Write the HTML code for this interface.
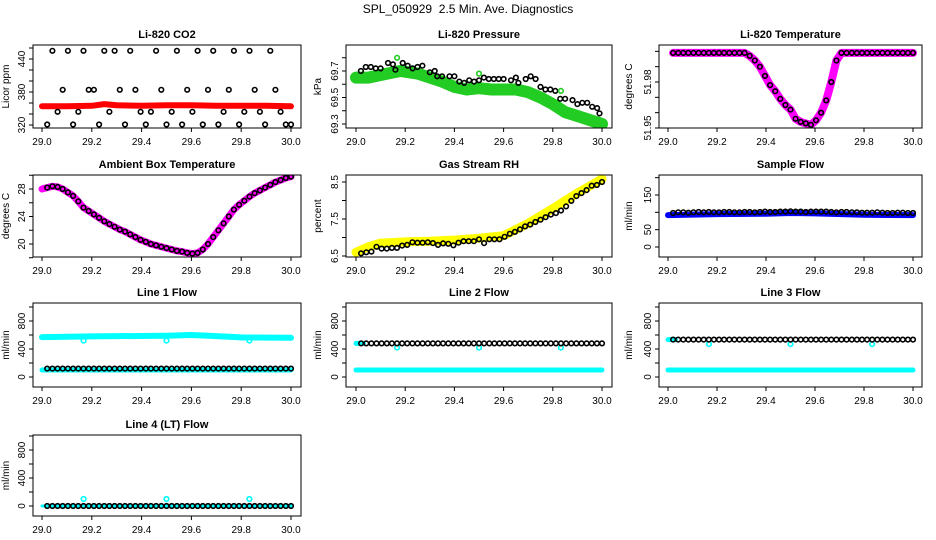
<!DOCTYPE html>
<html><head><meta charset="utf-8"><style>
body{margin:0;background:#fff}
svg{display:block;font-family:"Liberation Sans",sans-serif}
</style></head><body>
<svg id="chart" width="936" height="540" viewBox="0 0 936 540">
<text x="468" y="13" text-anchor="middle" font-size="12" style="white-space:pre">SPL_050929  2.5 Min. Ave. Diagnostics</text>
</svg>
<script>
// ---- data ----
const tTicks=[29.0,29.2,29.4,29.6,29.8,30.0];
const tickLabels=["29.0","29.2","29.4","29.6","29.8","30.0"];
const t48=Array.from({length:48},(_, i)=>29+(i+1)/48);
const co2Circles=[321,455,344,384,455,321,344,455,384,384,321,455,344,455,384,321,455,384,344,321,344,455,384,321,344,455,321,384,344,455,321,384,455,321,344,384,455,321,344,455,384,344,321,455,384,344,321,321];
const co2BandT=[29.0,29.1,29.2,29.25,29.3,29.4,29.5,29.6,29.7,29.8,29.9,30.0];
const co2BandV=[354,354,355,358,356,355,356,356,355,355,355,354];
const presBandT=[29.0,29.05,29.1,29.18,29.25,29.3,29.35,29.4,29.45,29.5,29.55,29.6,29.65,29.7,29.75,29.8,29.85,29.9,29.95,30.0];
const presBandV=[69.65,69.65,69.67,69.7,69.68,69.65,69.62,69.58,69.56,69.57,69.56,69.56,69.56,69.54,69.5,69.45,69.39,69.36,69.33,69.30];
const presCircT=[29.02,29.04,29.06,29.08,29.1,29.13,29.15,29.16,29.19,29.21,29.23,29.25,29.27,29.3,29.32,29.33,29.35,29.38,29.4,29.42,29.44,29.46,29.48,29.5,29.52,29.54,29.56,29.58,29.6,29.63,29.65,29.66,29.69,29.71,29.73,29.75,29.77,29.79,29.81,29.83,29.85,29.88,29.9,29.92,29.94,29.96,29.98,29.99];
const presCircV=[69.7,69.73,69.73,69.72,69.72,69.76,69.75,69.71,69.76,69.74,69.72,69.73,69.74,69.69,69.7,69.66,69.66,69.66,69.66,69.62,69.61,69.63,69.62,69.63,69.65,69.64,69.64,69.64,69.64,69.63,69.65,69.61,69.64,69.66,69.64,69.58,69.56,69.56,69.55,69.49,69.49,69.48,69.45,69.46,69.46,69.43,69.42,69.38];
const tempV=[51.999,51.999,51.999,51.999,51.999,51.999,51.999,51.999,51.999,51.999,51.999,51.999,51.999,51.999,51.999,51.997,51.994,51.99,51.984,51.978,51.974,51.969,51.965,51.962,51.956,51.954,51.953,51.952,51.955,51.96,51.968,51.98,51.994,51.999,51.999,51.999,51.999,51.999,51.999,51.999,51.999,51.999,51.999,51.999,51.999,51.999,51.999,51.999];
const ambV=[28.2,28.4,28.3,28.0,27.5,27.0,26.2,25.3,24.8,24.3,23.8,23.3,22.9,22.5,22.1,21.8,21.4,21.0,20.6,20.3,20.0,19.8,19.6,19.4,19.2,19.0,18.9,18.7,18.6,18.7,19.2,20.0,21.0,22.0,23.0,24.0,25.0,25.7,26.3,26.9,27.4,27.8,28.2,28.6,29.0,29.3,29.6,29.8];
const rhV=[6.57,6.6,6.62,6.75,6.7,6.7,6.72,6.72,6.78,6.8,6.87,6.86,6.86,6.87,6.85,6.8,6.84,6.83,6.79,6.86,6.9,6.9,6.9,6.95,6.85,6.95,6.95,6.95,7.02,7.1,7.15,7.22,7.3,7.35,7.42,7.48,7.55,7.62,7.66,7.73,7.84,7.99,8.12,8.2,8.28,8.4,8.42,8.5];
const rhBandT=[29.0,29.05,29.1,29.2,29.3,29.4,29.5,29.6,29.7,29.8,29.9,30.0];
const rhBandV=[6.6,6.75,6.85,6.88,6.9,6.93,6.98,7.05,7.38,7.78,8.2,8.58];
const sampleCirc=[98,100,100,99,100,101,100,101,100,100,101,101,100,100,101,101,100,101,102,101,101,102,102,103,102,102,101,102,102,102,102,101,100,101,101,100,100,99,99,99,100,99,98,98,99,99,98,98];
const sampleBandT=[29.0,29.2,29.4,29.5,29.6,29.8,30.0];
const sampleBandV=[92,95,96,98,97,93,92];
const flatT=[29.0,30.0];
const l1Upper=[29.0,29.2,29.5,29.6,29.7,29.8,30.0];
const l1UpperV=[570,580,590,600,585,565,560];
const l1Lower=[100,100];
const l1Black=Array(48).fill(120);
const dipT=[29.167,29.5,29.833];
const l1Dips=[520,520,520];
const l2Black=Array(48).fill(480);
const l2Lower=[100,100];
const l2Dips=[420,420,420];
const l3Black=Array(48).fill(535);
const l3Lower=[100,100];
const l3Dips=[470,470,470];
const l4Black=Array(48).fill(0);
const l4Lower=[0,0];
const l4Dips=[100,100,100];

// ---- layout ----
const NS="http://www.w3.org/2000/svg";
const svg=document.getElementById('chart');
const cols=[{bx:[33,301],tx:[42,291],yl:9,tl:25},{bx:[346,612],tx:[356,602],yl:321,tl:338},{bx:[659,922],tx:[668,913],yl:632,tl:651}];
const rows=[[45,128],[175,257],[303,387],[435,516]];
function el(tag,attrs,parent){const e=document.createElementNS(NS,tag);for(const k in attrs)e.setAttribute(k,attrs[k]);(parent||svg).appendChild(e);return e;}

function panel(cfg){
  const c=cols[cfg.col],r=rows[cfg.row];
  const g=el('g',{});
  
  
  const xs=t=>c.tx[0]+(t-29)*(c.tx[1]-c.tx[0]);
  const ys=v=>cfg.ya[1]+(v-cfg.ya[0])*(cfg.yb[1]-cfg.ya[1])/(cfg.yb[0]-cfg.ya[0]);
  const clipId='clip'+cfg.name;
  const cp=el('clipPath',{id:clipId},g);
  el('rect',{x:c.bx[0],y:r[0],width:c.bx[1]-c.bx[0],height:r[1]-r[0]},cp);
  const data=el('g',{'clip-path':`url(#${clipId})`},g);
  
  
  (cfg.bands||[]).forEach(b=>{
    const pts=b.t.map((t,i)=>xs(t).toFixed(1)+','+ys(b.v[i]).toFixed(1)).join(' ');
    const p=el('polyline',{points:pts,fill:'none',stroke:b.color,'stroke-width':b.w,'stroke-linejoin':'round','stroke-linecap':'round'},data);
    
    
  });
  (cfg.circles||[]).forEach(s=>{
    s.t.forEach((t,i)=>{
      const ci=el('circle',{cx:xs(t).toFixed(1),cy:ys(s.v[i]).toFixed(1),r:2.3,fill:'none',stroke:s.color,'stroke-width':1.6},data);
      
      
    });
  });
  const box=el('rect',{x:c.bx[0],y:r[0],width:c.bx[1]-c.bx[0],height:r[1]-r[0],fill:'none',stroke:'#000','stroke-width':1},g);
  
  
  const tt=el('text',{x:(c.bx[0]+c.bx[1])/2,y:r[0]-7,'text-anchor':'middle','font-size':11,'font-weight':'bold'},g);
  tt.textContent=cfg.title;
  
  
  tTicks.forEach((t,i)=>{
    el('line',{x1:xs(t),x2:xs(t),y1:r[1],y2:r[1]+4,stroke:'#000'},g);
    const lb=el('text',{x:xs(t),y:r[1]+17,'text-anchor':'middle','font-size':10},g);
    lb.textContent=tickLabels[i];
    
    
  });
  cfg.yTicks.forEach(v=>{
    const y=ys(v);
    el('line',{x1:c.bx[0]-4,x2:c.bx[0],y1:y,y2:y,stroke:'#000'},g);
  });
  cfg.yLabels.forEach(v=>{
    const y=ys(v);
    const lb=el('text',{x:c.tl,y:y,'text-anchor':'middle','font-size':10,transform:`rotate(-90 ${c.tl} ${y})`},g);
    lb.textContent=String(v);
    
    
  });
  const ym=(r[0]+r[1])/2;
  const yl=el('text',{x:c.yl,y:ym,'text-anchor':'middle','font-size':10,transform:`rotate(-90 ${c.yl} ${ym})`},g);
  yl.textContent=cfg.ylab;
  
  
}
const range=(a,b,s)=>{const o=[];for(let v=a;v<=b+s/1e3;v+=s)o.push(+v.toFixed(4));return o;};

panel({name:'co2-panel',col:0,row:0,title:'Li-820 CO2',ylab:'Licor ppm',ya:[320,125],yb:[440,59],yTicks:range(320,460,20),yLabels:[320,380,440],
  bands:[{t:co2BandT,v:co2BandV,color:'#ff0000',w:6}],circles:[{t:t48,v:co2Circles,color:'#000'}]});
panel({name:'pressure-panel',col:1,row:0,title:'Li-820 Pressure',ylab:'kPa',ya:[69.3,124],yb:[69.7,71],yTicks:range(69.3,69.8,0.1),yLabels:['69.3','69.5','69.7'].map(Number),
  bands:[{t:presBandT,v:presBandV,color:'#22cc22',w:12}],circles:[{t:presCircT,v:presCircV,color:'#000'},{t:[29.167,29.5,29.833],v:[69.8,69.68,69.55],color:'#22cc22'}]});
panel({name:'temperature-panel',col:2,row:0,title:'Li-820 Temperature',ylab:'degrees C',ya:[51.95,128],yb:[51.98,82],yTicks:range(51.95,52.0,0.01),yLabels:[51.95,51.98],
  bands:[{t:t48,v:tempV,color:'#ff00ff',w:8}],circles:[{t:t48,v:tempV,color:'#000'}]});
panel({name:'ambient-panel',col:0,row:1,title:'Ambient Box Temperature',ylab:'degrees C',ya:[20,244],yb:[28,189],yTicks:range(18,30,2),yLabels:[20,24,28],
  bands:[{t:[29.0].concat(t48),v:[28.0].concat(ambV),color:'#ff00ff',w:7}],circles:[{t:t48,v:ambV,color:'#000'}]});
panel({name:'rh-panel',col:1,row:1,title:'Gas Stream RH',ylab:'percent',ya:[6.5,256],yb:[8.5,182],yTicks:range(6.5,8.5,0.5),yLabels:['6.5','7.5','8.5'],
  bands:[{t:rhBandT,v:rhBandV,color:'#ffff00',w:9}],circles:[{t:t48,v:rhV,color:'#000'}]});
panel({name:'sample-flow-panel',col:2,row:1,title:'Sample Flow',ylab:'ml/min',ya:[0,247],yb:[150,195],yTicks:range(0,200,50),yLabels:[0,50,150],
  bands:[{t:sampleBandT,v:sampleBandV,color:'#0000ff',w:6}],circles:[{t:t48,v:sampleCirc,color:'#000'}]});
const flowTicks=range(0,1000,200);
panel({name:'line1-flow-panel',col:0,row:2,title:'Line 1 Flow',ylab:'ml/min',ya:[0,377],yb:[800,321],yTicks:flowTicks,yLabels:[0,400,800],
  bands:[{t:l1Upper,v:l1UpperV,color:'#00ffff',w:6},{t:flatT,v:l1Lower,color:'#00ffff',w:5}],circles:[{t:dipT,v:l1Dips,color:'#00ffff'},{t:t48,v:l1Black,color:'#000'}]});
panel({name:'line2-flow-panel',col:1,row:2,title:'Line 2 Flow',ylab:'ml/min',ya:[0,377],yb:[800,321],yTicks:flowTicks,yLabels:[0,400,800],
  bands:[{t:flatT,v:l2Lower,color:'#00ffff',w:5},{t:[29.0,29.03],v:[480,480],color:'#00ffff',w:5}],circles:[{t:dipT,v:l2Dips,color:'#00ffff'},{t:t48,v:l2Black,color:'#000'}]});
panel({name:'line3-flow-panel',col:2,row:2,title:'Line 3 Flow',ylab:'ml/min',ya:[0,377],yb:[800,321],yTicks:flowTicks,yLabels:[0,400,800],
  bands:[{t:flatT,v:l3Lower,color:'#00ffff',w:5},{t:[29.0,29.03],v:[535,535],color:'#00ffff',w:5}],circles:[{t:dipT,v:l3Dips,color:'#00ffff'},{t:t48,v:l3Black,color:'#000'}]});
panel({name:'line4-flow-panel',col:0,row:3,title:'Line 4 (LT) Flow',ylab:'ml/min',ya:[0,506],yb:[800,450],yTicks:flowTicks,yLabels:[0,400,800],
  bands:[{t:flatT,v:l4Lower,color:'#00ffff',w:3}],circles:[{t:dipT,v:l4Dips,color:'#00ffff'},{t:t48,v:l4Black,color:'#000'}]});
</script>
</body></html>
